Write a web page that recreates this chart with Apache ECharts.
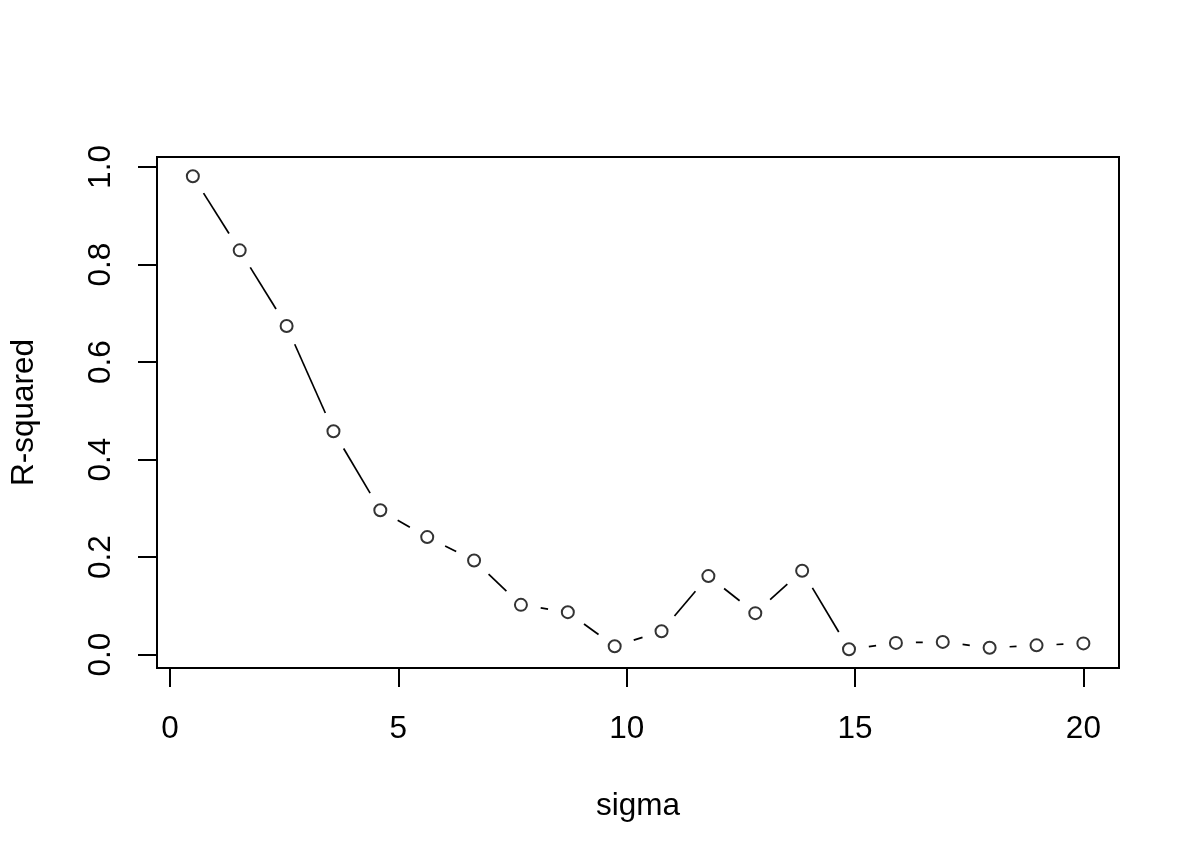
<!DOCTYPE html>
<html>
<head>
<meta charset="utf-8">
<script src="https://cdn.jsdelivr.net/npm/echarts@6/dist/echarts.min.js"></script>
<style>
html,body{margin:0;padding:0;background:#fff;}
#chart{width:1200px;height:864px;}
</style>
</head>
<body>
<div id="chart"></div>
<script>
// Data
const sigma = [0.5, 1.526, 2.553, 3.579, 4.605, 5.632, 6.658, 7.684, 8.711, 9.737,
               10.763, 11.789, 12.816, 13.842, 14.868, 15.895, 16.921, 17.947, 18.974, 20.0];
const rsquared = [0.981, 0.829, 0.674, 0.458, 0.296, 0.241, 0.193, 0.102, 0.087, 0.017,
                  0.048, 0.161, 0.085, 0.172, 0.011, 0.024, 0.026, 0.014, 0.019, 0.023];
const xTicks = [0, 5, 10, 15, 20];
const yTicks = [0, 0.2, 0.4, 0.6, 0.8, 1.0];

const points = sigma.map((x, i) => [x, rsquared[i]]);
const segments = [];
for (let i = 0; i < sigma.length - 1; i++) {
  segments.push([sigma[i], rsquared[i], sigma[i + 1], rsquared[i + 1]]);
}

const FONT = 'Liberation Sans, Arial, sans-serif';
const FS = 31.5;

const chart = echarts.init(document.getElementById('chart'), null, {renderer: 'canvas'});
chart.setOption({
  animation: false,
  backgroundColor: '#ffffff',
  grid: {
    left: 157, top: 157, right: 81, bottom: 196,
    show: true, borderColor: '#000', borderWidth: 2, backgroundColor: 'transparent'
  },
  xAxis: {
    type: 'value',
    min: -0.285, max: 20.78,
    name: 'sigma',
    nameLocation: 'middle',
    nameGap: 122,
    nameTextStyle: {color: '#000', fontFamily: FONT, fontSize: FS},
    splitLine: {show: false},
    axisLine: {show: false, onZero: false},
    axisTick: {show: true, inside: false, customValues: xTicks, length: 19, lineStyle: {color: '#000', width: 2}},
    axisLabel: {customValues: xTicks, color: '#000', fontFamily: FONT, fontSize: FS, margin: 45,
                formatter: v => String(v)}
  },
  yAxis: {
    type: 'value',
    min: -0.0275, max: 1.0205,
    name: 'R-squared',
    nameLocation: 'middle',
    nameRotate: 90,
    nameGap: 117,
    nameTextStyle: {color: '#000', fontFamily: FONT, fontSize: FS},
    splitLine: {show: false},
    axisLine: {show: false, onZero: false},
    axisTick: {show: true, inside: false, customValues: yTicks, length: 19, lineStyle: {color: '#000', width: 2}},
    axisLabel: {customValues: yTicks, rotate: 90, color: '#000', fontFamily: FONT, fontSize: FS, margin: 40,
                formatter: v => v.toFixed(1)}
  },
  series: [
    {
      type: 'custom',
      coordinateSystem: 'cartesian2d',
      data: segments,
      encode: {x: [0, 2], y: [1, 3]},
      silent: true,
      renderItem: function (params, api) {
        const a = api.coord([api.value(0), api.value(1)]);
        const b = api.coord([api.value(2), api.value(3)]);
        const dx = b[0] - a[0], dy = b[1] - a[1];
        const len = Math.sqrt(dx * dx + dy * dy);
        const gap = 20;
        if (len <= 2 * gap) return null;
        const ux = dx / len, uy = dy / len;
        return {
          type: 'line',
          shape: {x1: a[0] + ux * gap, y1: a[1] + uy * gap, x2: b[0] - ux * gap, y2: b[1] - uy * gap},
          style: {stroke: '#000', lineWidth: 1.7}
        };
      }
    },
    {
      type: 'scatter',
      data: points,
      symbol: 'circle',
      symbolSize: 12,
      silent: true,
      itemStyle: {color: 'rgba(255,255,255,0)', borderColor: '#000', borderWidth: 2}
    }
  ]
});
</script>
</body>
</html>
